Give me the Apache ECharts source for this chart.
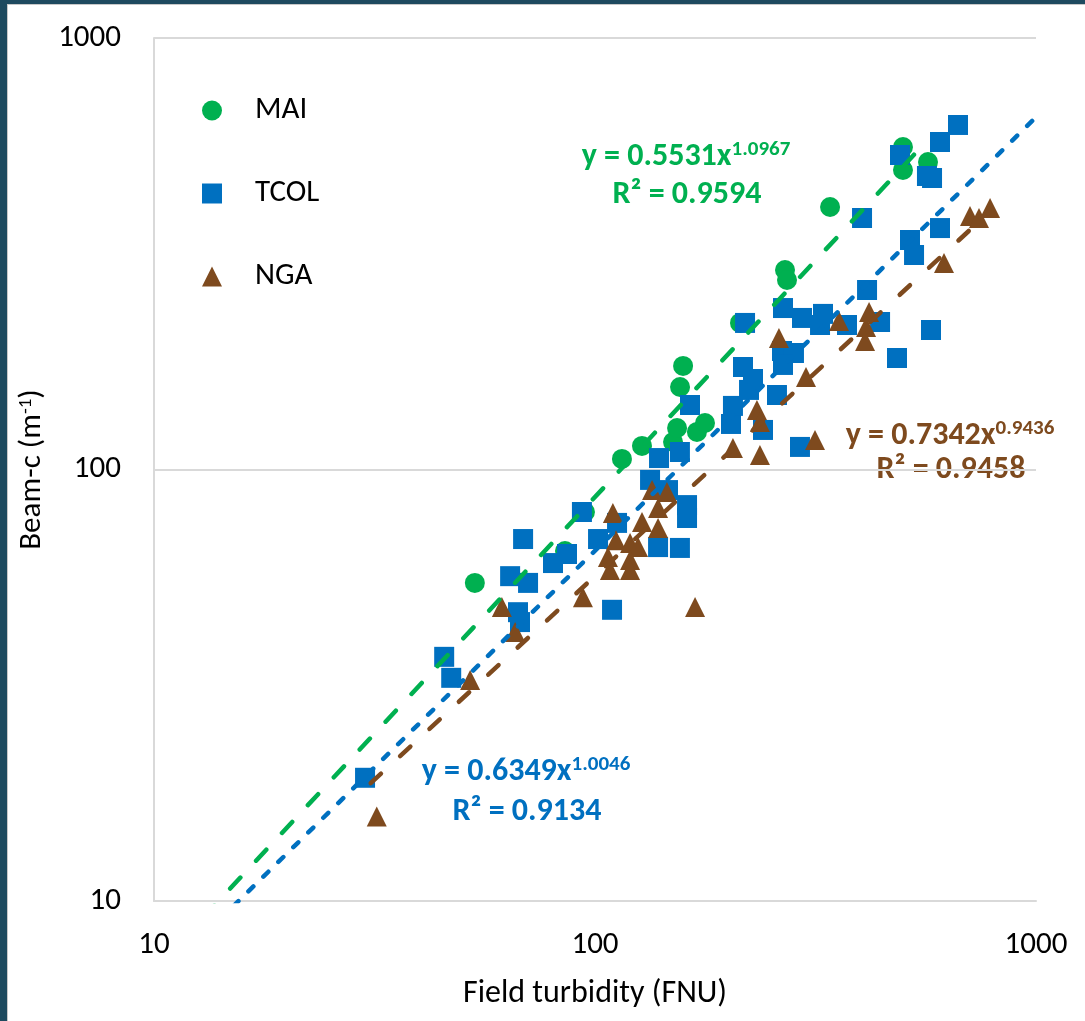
<!DOCTYPE html>
<html>
<head>
<meta charset="utf-8">
<script src="https://cdn.jsdelivr.net/npm/echarts@6/dist/echarts.min.js"></script>
<style>
html,body{margin:0;padding:0;background:#fff;}
#topbar{position:absolute;left:0;top:0;width:1085px;height:4px;background:#1e4a5f;}
#leftbar{position:absolute;left:0;top:0;width:7px;height:1021px;background:#1e4a5f;}
#inner{position:absolute;left:7px;top:4px;width:1078px;height:1017px;border-left:1px solid #c8c8c8;border-top:1px solid #c8c8c8;box-sizing:border-box;}
#chart{position:absolute;left:0;top:0;width:1085px;height:1021px;}
</style>
</head>
<body>
<div id="topbar"></div><div id="leftbar"></div><div id="inner"></div>
<div id="chart"></div>
<script>
// ---- data ----
var seriesNames = ['MAI', 'TCOL', 'NGA'];
var tickValues = [10, 100, 1000];

var maiPoints = [
  [53.4,54.6],[85.5,64.7],[94.9,79.7],[115.1,105.8],[127.8,113.4],[150.3,115.8],
  [153.5,124.8],[170.3,122.2],[177.6,128.2],[155.9,155.3],[158.4,173.8],[213.2,218.6],
  [269.7,290.0],[272.5,274.9],[341.2,405.8],[499.3,559],[499.3,494.5],[569,516]
];
var tcolPoints = [
  [30.1,19.3],[45.5,36.8],[47.2,32.9],[66.9,46.7],[67.6,44.3],[64.2,56.6],[70.5,54.6],
  [68.7,69.0],[80.3,60.7],[86.4,63.7],[93.4,79.7],[101.6,69.0],[112.2,75.2],[109.3,47.3],
  [139.0,66.1],[155.8,65.8],[133.3,94.6],[146.4,89.6],[161.7,82.7],[161.7,77.2],
  [139.7,106.3],[155.8,109.8],[164.2,141.1],[203.4,127.5],[205.5,140.4],[216.6,172.8],
  [228.2,162.1],[223.5,152.9],[240.4,123.5],[258.6,148.8],[265.5,188.2],[282.6,186.2],
  [266.9,174.7],[218.9,218.6],[266.9,236.7],[294.7,224.5],[328.9,229.4],[323.8,216.2],
  [372.8,216.2],[443.0,219.7],[413.9,260.6],[291.6,112.8],[483.9,181.3],[578.0,210.5],
  [403.2,382.7],[518.0,340.3],[529.0,314.1],[605.8,362.7],[491.6,535.6],[565.9,478.8],
  [581.1,473.7],[605.8,574.1],[665.5,628.7]
];
var ngaPoints = [
  [32.0,15.7],[52.1,32.5],[61.5,48.0],[65.9,42.0],[93.9,50.6],[109.8,79.3],[107.0,62.7],
  [108.1,58.5],[111.6,68.6],[120.1,67.6],[125.2,66.1],[120.1,61.7],[120.1,58.5],[127.8,75.6],
  [134.7,89.6],[145.6,88.7],[139.0,81.4],[139.0,73.2],[168.6,48.0],[205.5,112.1],[236.6,108.0],
  [232.9,137.3],[236.6,128.9],[261.3,201.7],[300.9,163.9],[315.4,117.1],[357.5,220.9],
  [418.3,231.7],[411.8,213.9],[409.6,198.5],[618.6,301.0],[708.6,386.8],[742.6,382.7],[786.8,403.6]
];

// power-law trendlines printed on the chart: y = a * x^b, drawn over the x-range shown
var fitA = [0.5531, 0.6349, 0.7342];
var fitB = [1.0967, 1.0046, 0.9436];
var fitR2 = ['0.9594', '0.9134', '0.9458'];
var fitXRange = [[13, 570], [14, 1000], [31, 780]];

// ---- styling ----
var colors = ['#00B050', '#0070C0', '#7E4A1E'];
var symbols = ['circle', 'rect', 'triangle'];
var FONT = "Carlito, Calibri, 'Liberation Sans', Arial, sans-serif";

function fitLine(i) {
  var r = fitXRange[i];
  return r.map(function (x) { return [x, fitA[i] * Math.pow(x, fitB[i])]; });
}

var dashes = [[15, 23], [7, 14], [14, 26]];
var allPoints = [maiPoints, tcolPoints, ngaPoints];

var series = [];
for (var i = 0; i < 3; i++) {
  series.push({
    name: seriesNames[i], type: 'scatter', data: allPoints[i],
    symbol: symbols[i], symbolSize: 20, z: 2 + i * 0.1,
    itemStyle: { color: colors[i], opacity: 1 },
    emphasis: { disabled: true }
  });
}
for (var j = 0; j < 3; j++) {
  series.push({
    name: seriesNames[j] + ' fit', type: 'line', data: fitLine(j),
    symbol: 'none', z: 5, clip: true, silent: true,
    lineStyle: { color: colors[j], width: 4.5, type: dashes[j], cap: 'round' }
  });
}

function eqText(i) {
  return 'y = ' + fitA[i].toFixed(4) + 'x{sup|' + fitB[i].toFixed(4) + '}';
}
var eqPos = [
  { l1: [686, 157], l2: [687, 195] },
  { l1: [526, 772], l2: [527, 812] },
  { l1: [950, 436], l2: [951, 470] }
];
var graphics = [];
for (var k = 0; k < 3; k++) {
  graphics.push({
    type: 'text', x: eqPos[k].l1[0], y: eqPos[k].l1[1], silent: true,
    style: {
      text: eqText(k), fill: colors[k], align: 'center', verticalAlign: 'middle',
      font: 'bold 32px ' + FONT, lineHeight: 36,
      rich: { sup: { fontSize: 21, fontWeight: 'bold', fontFamily: FONT, fill: colors[k], verticalAlign: 'top', lineHeight: 22 } }
    }
  });
  graphics.push({
    type: 'text', x: eqPos[k].l2[0], y: eqPos[k].l2[1], silent: true,
    style: {
      text: 'R\u00B2 = ' + fitR2[k], fill: colors[k], align: 'center', verticalAlign: 'middle',
      font: 'bold 32px ' + FONT
    }
  });
}

var chart = echarts.init(document.getElementById('chart'), null, { renderer: 'canvas' });
chart.setOption({
  animation: false,
  backgroundColor: 'transparent',
  textStyle: { fontFamily: FONT },
  grid: { left: 154, right: 49, top: 38, bottom: 120, containLabel: false },
  legend: {
    data: seriesNames, orient: 'vertical', left: 197, top: 90,
    itemWidth: 20, itemHeight: 20, itemGap: 52,
    textStyle: { fontSize: 31, color: '#000', fontFamily: FONT, lineHeight: 30, padding: [0, 0, 0, 28] },
    selectedMode: false
  },
  xAxis: {
    type: 'log', logBase: 10, min: tickValues[0], max: tickValues[tickValues.length - 1],
    name: 'Field turbidity (FNU)', nameLocation: 'middle', nameGap: 77,
    nameTextStyle: { fontSize: 32, color: '#000', fontFamily: FONT },
    axisLine: { show: true, lineStyle: { color: '#d9d9d9', width: 2 } },
    axisTick: { show: false }, splitLine: { show: false }, minorTick: { show: false },
    axisLabel: { fontSize: 31, color: '#000', margin: 29, fontFamily: FONT,
      formatter: function (v) { return String(Math.round(v)); } }
  },
  yAxis: {
    type: 'log', logBase: 10, min: tickValues[0], max: tickValues[tickValues.length - 1],
    name: 'Beam-c (m{sup|-1})', nameLocation: 'middle', nameRotate: 90, nameGap: 99,
    nameTextStyle: { fontSize: 31, color: '#000', fontFamily: FONT,
      rich: { sup: { fontSize: 19, color: '#000', fontFamily: FONT, verticalAlign: 'top', lineHeight: 20 } } },
    axisLine: { show: true, lineStyle: { color: '#d9d9d9', width: 2 } },
    axisTick: { show: false },
    splitLine: { show: true, lineStyle: { color: '#d9d9d9', width: 2 } },
    axisLabel: { fontSize: 31, color: '#000', margin: 33, fontFamily: FONT,
      formatter: function (v) { return String(Math.round(v)); } }
  },
  graphic: graphics,
  series: series
});
</script>
</body>
</html>
